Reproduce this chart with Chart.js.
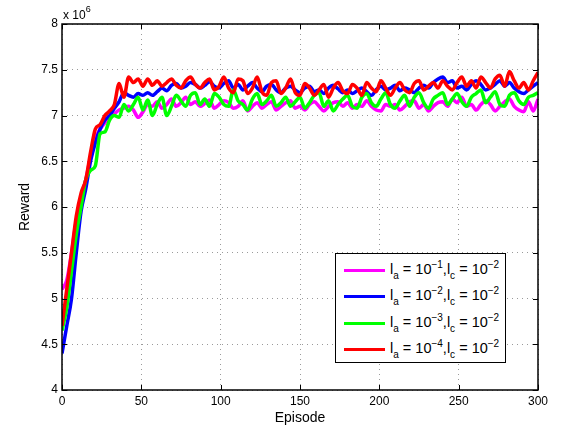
<!DOCTYPE html>
<html>
<head>
<meta charset="utf-8">
<script src="https://cdn.jsdelivr.net/npm/chart.js@4.4.1/dist/chart.umd.min.js"></script>
<style>
  body { margin: 0; background: #fff; }
  #wrap { position: relative; width: 562px; height: 433px; font-family: "Liberation Sans", Arial, sans-serif; }
  #scale { position: absolute; left: 63px; top: 6px; font-size: 12px; }
  #scale sup { font-size: 9px; position: relative; top: -2px; }
  #legend { position: absolute; left: 335px; top: 253px; width: 169px; height: 108px; border: 1px solid #000; background: #fff; }
  .row { position: absolute; left: 8px; height: 20px; font-size: 14.5px; white-space: nowrap; }
  .row .ln { position: absolute; left: 0; top: 8px; width: 41px; height: 3px; }
  .row .tx { position: absolute; left: 46px; top: 0; }
  .row sub { font-size: 10px; vertical-align: baseline; position: relative; top: 5px; }
  .row sup { font-size: 10px; vertical-align: baseline; position: relative; top: -6px; }
</style>
</head>
<body>
<div id="wrap">
  <canvas id="chart" width="562" height="433"></canvas>
  <div id="scale">x 10<sup>6</sup></div>
  <div id="legend"></div>
</div>
<script>
// episode numbers (every 3rd episode)
const episodes = [
  0, 3, 6, 9, 12, 15, 18, 21, 24, 27,
  30, 33, 36, 39, 42, 45, 48, 51, 54, 57,
  60, 63, 66, 69, 72, 75, 78, 81, 84, 87,
  90, 93, 96, 99, 102, 105, 108, 111, 114, 117,
  120, 123, 126, 129, 132, 135, 138, 141, 144, 147,
  150, 153, 156, 159, 162, 165, 168, 171, 174, 177,
  180, 183, 186, 189, 192, 195, 198, 201, 204, 207,
  210, 213, 216, 219, 222, 225, 228, 231, 234, 237,
  240, 243, 246, 249, 252, 255, 258, 261, 264, 267,
  270, 273, 276, 279, 282, 285, 288, 291, 294, 297,
  300
];

// reward in units of 10^6
const rewardA1 = [
  5.1, 5.2, 5.5, 5.85, 6.1, 6.3, 6.55, 6.75, 6.85, 6.92,
  6.98, 7.02, 7.06, 7.08, 7.1, 7.06, 6.98, 7.04, 7.12, 7.1,
  7.15, 7.08, 7.12, 7.18, 7.1, 7.14, 7.2, 7.12, 7.15, 7.1,
  7.13, 7.17, 7.08, 7.12, 7.16, 7.14, 7.08, 7.1, 7.16, 7.05,
  7.1, 7.14, 7.08, 7.12, 7.15, 7.06, 7.1, 7.14, 7.16, 7.08,
  7.1, 7.06, 7.12, 7.15, 7.1, 7.05, 7.1, 7.14, 7.15, 7.1,
  7.14, 7.08, 7.12, 7.1, 7.16, 7.1, 7.06, 7.05, 7.12, 7.1,
  7.12, 7.06, 7.1, 7.15, 7.16, 7.08, 7.12, 7.05, 7.1, 7.14,
  7.15, 7.1, 7.18, 7.14, 7.2, 7.1, 7.12, 7.06, 7.12, 7.16,
  7.12, 7.05, 7.1, 7.15, 7.18, 7.1, 7.06, 7.04, 7.15, 7.05,
  7.18
];
const rewardA2 = [
  4.4, 4.7, 5.0, 5.5, 5.95, 6.2, 6.5, 6.7, 6.85, 6.95,
  7.0, 7.08, 7.15, 7.25, 7.22, 7.2, 7.24, 7.22, 7.25, 7.22,
  7.26, 7.3, 7.27, 7.33, 7.35, 7.3, 7.32, 7.36, 7.34, 7.3,
  7.33, 7.37, 7.32, 7.3, 7.35, 7.38, 7.3, 7.34, 7.28, 7.32,
  7.36, 7.3, 7.26, 7.32, 7.34, 7.28, 7.25, 7.3, 7.32, 7.28,
  7.25, 7.3, 7.32, 7.26, 7.28, 7.24, 7.3, 7.33, 7.29, 7.25,
  7.28, 7.24, 7.27, 7.3, 7.26, 7.22, 7.28, 7.32, 7.28, 7.3,
  7.33, 7.27, 7.3, 7.28, 7.25, 7.3, 7.33, 7.3, 7.36, 7.4,
  7.42, 7.36, 7.38, 7.3, 7.32, 7.28, 7.34, 7.38, 7.34, 7.28,
  7.3, 7.34, 7.38, 7.32, 7.36, 7.3, 7.26, 7.24, 7.28, 7.32,
  7.36
];
const rewardA3 = [
  4.65, 4.9, 5.3, 5.7, 6.0, 6.3, 6.4, 6.45, 6.8, 6.82,
  6.95, 7.0, 6.98, 7.12, 7.05, 7.12, 7.2, 7.06, 7.17, 7.0,
  7.12, 7.2, 7.0, 7.1, 7.22, 7.16, 7.1, 7.22, 7.25, 7.12,
  7.18, 7.1, 7.24, 7.2, 7.12, 7.1, 7.28, 7.16, 7.12, 7.06,
  7.18, 7.24, 7.12, 7.16, 7.22, 7.1, 7.14, 7.2, 7.1, 7.15,
  7.2, 7.08, 7.14, 7.22, 7.25, 7.1, 7.16, 7.05, 7.12, 7.18,
  7.22, 7.1, 7.08, 7.2, 7.24, 7.14, 7.1, 7.18, 7.25, 7.12,
  7.08, 7.16, 7.22, 7.1, 7.2, 7.25, 7.14, 7.08, 7.18, 7.22,
  7.25, 7.12, 7.18, 7.24, 7.15, 7.1, 7.2, 7.24, 7.28, 7.14,
  7.2, 7.26, 7.12, 7.1, 7.22, 7.25, 7.16, 7.12, 7.2, 7.22,
  7.25
];
const rewardA4 = [
  4.7, 5.1, 5.5, 5.9, 6.15, 6.3, 6.6, 6.85, 6.9, 7.0,
  7.05, 7.12, 7.35, 7.2, 7.42, 7.36, 7.4, 7.32, 7.4, 7.33,
  7.38, 7.32, 7.36, 7.4, 7.33, 7.3, 7.38, 7.42, 7.34, 7.3,
  7.36, 7.4, 7.28, 7.32, 7.42, 7.3, 7.25, 7.4, 7.38, 7.24,
  7.3, 7.42, 7.26, 7.22, 7.36, 7.38, 7.24, 7.3, 7.4, 7.25,
  7.22, 7.35, 7.3, 7.22, 7.28, 7.34, 7.2, 7.3, 7.36, 7.27,
  7.24, 7.34, 7.3, 7.22, 7.36, 7.3, 7.26, 7.38, 7.3, 7.22,
  7.3, 7.36, 7.28, 7.25, 7.35, 7.38, 7.28, 7.32, 7.36, 7.3,
  7.38, 7.32, 7.28, 7.36, 7.42, 7.32, 7.38, 7.3, 7.42, 7.36,
  7.3, 7.4, 7.44, 7.32, 7.48, 7.38, 7.3, 7.36, 7.28, 7.38,
  7.47
];

const actorExp = ['\u22121', '\u22122', '\u22123', '\u22124'];
const colors = ['#ff00ff', '#0000ff', '#00ff00', '#ff0000'];
const series = [rewardA1, rewardA2, rewardA3, rewardA4];
const drawOrder = [4, 3, 2, 1]; // red on top

const xTicks = [0, 50, 100, 150, 200, 250, 300];
const yTicks = [4, 4.5, 5, 5.5, 6, 6.5, 7, 7.5, 8];

// legend in html (needs sub/superscripts)
const legend = document.getElementById('legend');
actorExp.forEach((e, i) => {
  const row = document.createElement('div');
  row.className = 'row';
  row.style.top = (7 + i * 26.3) + 'px';
  row.innerHTML = '<span class="ln" style="background:' + colors[i] + '"></span>' +
    '<span class="tx">l<sub>a</sub> = 10<sup>' + e + '</sup>,l<sub>c</sub> = 10<sup>\u22122</sup></span>';
  legend.appendChild(row);
});

// box + inward tick marks like matlab
const boxPlugin = {
  id: 'box',
  afterDraw(chart) {
    const ctx = chart.ctx;
    const a = chart.chartArea;
    const xs = chart.scales.x, ys = chart.scales.y;
    ctx.save();
    ctx.strokeStyle = '#000';
    ctx.lineWidth = 1;
    ctx.beginPath();
    xTicks.forEach(t => {
      const px = Math.round(xs.getPixelForValue(t)) + 0.5;
      ctx.moveTo(px, a.bottom); ctx.lineTo(px, a.bottom - 5);
      ctx.moveTo(px, a.top); ctx.lineTo(px, a.top + 5);
    });
    yTicks.forEach(t => {
      const py = Math.round(ys.getPixelForValue(t)) + 0.5;
      ctx.moveTo(a.left, py); ctx.lineTo(a.left + 5, py);
      ctx.moveTo(a.right, py); ctx.lineTo(a.right - 5, py);
    });
    ctx.stroke();
    ctx.lineWidth = 1.5;
    ctx.strokeRect(a.left, a.top, a.right - a.left, a.bottom - a.top);
    ctx.restore();
  }
};

const ctx = document.getElementById('chart').getContext('2d');
const chart = new Chart(ctx, {
  type: 'line',
  data: {
    datasets: series.map((vals, i) => ({
      label: 'la = 10^' + actorExp[i] + ', lc = 10^-2',
      data: vals.map((v, j) => ({ x: episodes[j], y: v })),
      borderColor: colors[i],
      borderWidth: 3.5,
      pointRadius: 0,
      cubicInterpolationMode: 'monotone',
      fill: false,
      order: drawOrder[i]
    }))
  },
  options: {
    responsive: false,
    animation: false,
    layout: { padding: { left: 0, right: 24, top: 24, bottom: 0 } },
    plugins: { legend: { display: false }, tooltip: { enabled: false } },
    scales: {
      x: {
        type: 'linear',
        min: 0, max: 300,
        afterBuildTicks: s => { s.ticks = xTicks.map(v => ({ value: v })); },
        afterFit: s => { s.height = 43; },
        ticks: { color: '#000', font: { family: 'Liberation Sans', size: 12 }, padding: 4, maxRotation: 0 },
        grid: { color: '#9a9a9a', lineWidth: 1, drawTicks: false },
        border: { display: false, dash: [1, 4] },
        title: { display: true, text: 'Episode', color: '#000', font: { family: 'Liberation Sans', size: 14 }, padding: { top: 0, bottom: 6 } }
      },
      y: {
        type: 'linear',
        min: 4, max: 8,
        afterBuildTicks: s => { s.ticks = yTicks.map(v => ({ value: v })); },
        afterFit: s => { s.width = 62; },
        ticks: { color: '#000', font: { family: 'Liberation Sans', size: 12 }, padding: 4, callback: v => String(v) },
        grid: { color: '#9a9a9a', lineWidth: 1, drawTicks: false },
        border: { display: false, dash: [1, 4] },
        title: { display: true, text: 'Reward', color: '#000', font: { family: 'Liberation Sans', size: 14 }, padding: { top: 17, bottom: 0 } }
      }
    }
  },
  plugins: [boxPlugin]
});
</script>
</body>
</html>
